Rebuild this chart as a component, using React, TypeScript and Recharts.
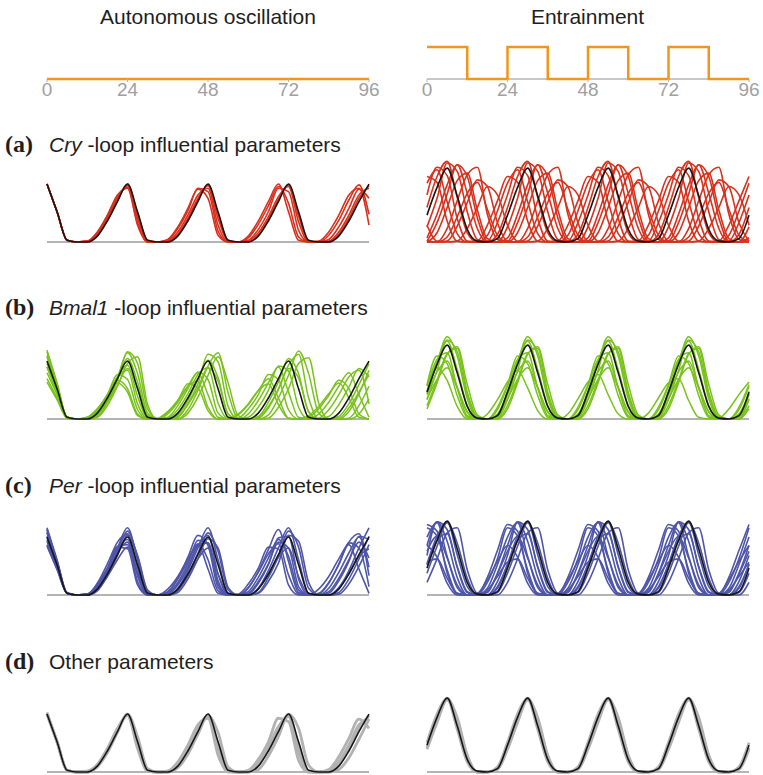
import React from 'react';
import { LineChart, Line, XAxis, YAxis } from 'recharts';

// time grid (h), sampled every 3 h
const hours = [0, 3, 6, 9, 12, 15, 18, 21, 24, 27, 30, 33, 36, 39, 42, 45, 48, 51, 54, 57, 60, 63, 66, 69, 72, 75, 78, 81, 84, 87, 90, 93, 96];
const tickHours = [0, 24, 48, 72, 96];

// light schedule
const lightTimes = [0, 12, 24, 36, 48, 60, 72, 84, 96];
const lightDD = [0, 0, 0, 0, 0, 0, 0, 0, 0];
const lightLD = [1, 0, 1, 0, 1, 0, 1, 0, 0];

// nominal model (black)
const blackAuto = [69, 36, 2, 0, 0, 7, 25, 48, 69, 36, 2, 0, 0, 7, 25, 48, 69, 36, 2, 0, 0, 7, 25, 48, 69, 36, 2, 0, 0, 7, 25, 48, 69];
const blackEntrain = [32, 65, 88, 55, 15, 1, 0, 4, 32, 65, 88, 55, 15, 1, 0, 4, 32, 65, 88, 55, 15, 1, 0, 4, 32, 65, 88, 55, 15, 1, 0, 4, 32];

// (a) Cry-loop
const cryAuto = [
  [69, 36, 2, 0, 1, 12, 32, 56, 64, 20, 0, 0, 3, 18, 40, 63, 52, 8, 0, 0, 7, 25, 48, 69, 36, 2, 0, 1, 12, 32, 56, 64, 20],
  [69, 36, 2, 0, 1, 9, 28, 52, 67, 28, 1, 0, 1, 12, 32, 56, 64, 20, 0, 0, 2, 15, 36, 64, 60, 14, 0, 0, 3, 18, 40, 63, 52],
  [69, 36, 2, 0, 0, 8, 27, 50, 68, 32, 1, 0, 1, 9, 28, 52, 67, 28, 1, 0, 1, 11, 30, 54, 66, 24, 0, 0, 1, 12, 32, 56, 64],
  [69, 36, 2, 0, 0, 7, 26, 49, 69, 34, 2, 0, 0, 8, 26, 50, 68, 33, 2, 0, 0, 8, 27, 51, 68, 31, 1, 0, 0, 9, 28, 52, 67],
  [69, 36, 2, 0, 1, 11, 31, 54, 65, 23, 0, 0, 2, 16, 37, 64, 60, 13, 0, 0, 5, 21, 43, 66, 46, 6, 0, 0, 8, 26, 50, 68, 33],
];
const cryEntrain = [
  [78, 71, 25, 1, 0, 1, 20, 49, 78, 71, 25, 1, 0, 1, 20, 49, 78, 71, 25, 1, 0, 1, 20, 49, 78, 71, 25, 1, 0, 1, 20, 49, 78],
  [70, 86, 48, 10, 0, 0, 8, 37, 70, 86, 48, 10, 0, 0, 8, 37, 70, 86, 48, 10, 0, 0, 8, 37, 70, 86, 48, 10, 0, 0, 8, 37, 70],
  [56, 89, 79, 28, 1, 0, 1, 23, 56, 89, 79, 28, 1, 0, 1, 23, 56, 89, 79, 28, 1, 0, 1, 23, 56, 89, 79, 28, 1, 0, 1, 23, 56],
  [18, 52, 94, 84, 36, 3, 0, 0, 18, 52, 94, 84, 36, 3, 0, 0, 18, 52, 94, 84, 36, 3, 0, 0, 18, 52, 94, 84, 36, 3, 0, 0, 18],
  [5, 33, 68, 92, 58, 16, 0, 0, 5, 33, 68, 92, 58, 16, 0, 0, 5, 33, 68, 92, 58, 16, 0, 0, 5, 33, 68, 92, 58, 16, 0, 0, 5],
  [0, 11, 41, 73, 82, 38, 4, 0, 0, 11, 41, 73, 82, 38, 4, 0, 0, 11, 41, 73, 82, 38, 4, 0, 0, 11, 41, 73, 82, 38, 4, 0, 0],
  [0, 0, 16, 49, 80, 89, 33, 3, 0, 0, 16, 49, 80, 89, 33, 3, 0, 0, 16, 49, 80, 89, 33, 3, 0, 0, 16, 49, 80, 89, 33, 3, 0],
  [1, 0, 1, 19, 47, 74, 66, 23, 1, 0, 1, 19, 47, 74, 66, 23, 1, 0, 1, 19, 47, 74, 66, 23, 1, 0, 1, 19, 47, 74, 66, 23, 1],
  [20, 1, 0, 1, 16, 41, 66, 56, 20, 1, 0, 1, 16, 41, 66, 56, 20, 1, 0, 1, 16, 41, 66, 56, 20, 1, 0, 1, 16, 41, 66, 56, 20],
  [41, 78, 96, 53, 11, 0, 0, 9, 41, 78, 96, 53, 11, 0, 0, 9, 41, 78, 96, 53, 11, 0, 0, 9, 41, 78, 96, 53, 11, 0, 0, 9, 41],
  [1, 23, 57, 92, 78, 29, 1, 0, 1, 23, 57, 92, 78, 29, 1, 0, 1, 23, 57, 92, 78, 29, 1, 0, 1, 23, 57, 92, 78, 29, 1, 0, 1],
  [0, 0, 6, 30, 58, 71, 39, 8, 0, 0, 6, 30, 58, 71, 39, 8, 0, 0, 6, 30, 58, 71, 39, 8, 0, 0, 6, 30, 58, 71, 39, 8, 0],
];

// (b) Bmal1-loop
const bmalAuto = [
  [48, 25, 1, 0, 2, 12, 28, 46, 36, 6, 0, 0, 8, 22, 39, 45, 14, 0, 0, 5, 17, 34, 48, 25, 1, 0, 2, 12, 28, 46, 36, 6, 0],
  [55, 29, 2, 0, 1, 12, 29, 53, 47, 11, 0, 0, 6, 20, 39, 55, 29, 2, 0, 1, 12, 29, 53, 47, 11, 0, 0, 6, 20, 39, 55, 29, 2],
  [62, 32, 2, 0, 1, 11, 29, 50, 58, 18, 0, 0, 2, 16, 36, 56, 47, 7, 0, 0, 6, 22, 43, 62, 32, 2, 0, 1, 11, 29, 50, 58, 18],
  [66, 34, 2, 0, 0, 9, 27, 50, 64, 27, 1, 0, 1, 11, 30, 53, 61, 19, 0, 0, 2, 14, 34, 63, 57, 14, 0, 0, 3, 17, 38, 60, 50],
  [74, 38, 2, 0, 0, 6, 24, 49, 72, 44, 4, 0, 0, 5, 22, 47, 70, 49, 6, 0, 0, 3, 20, 44, 72, 54, 8, 0, 0, 3, 18, 41, 66],
  [80, 42, 2, 0, 0, 5, 23, 49, 79, 54, 7, 0, 0, 2, 18, 42, 77, 68, 15, 0, 0, 1, 13, 36, 64, 77, 25, 0, 0, 0, 9, 30, 58],
  [82, 43, 2, 0, 0, 3, 20, 46, 80, 66, 12, 0, 0, 0, 11, 34, 63, 79, 31, 1, 0, 0, 5, 25, 52, 81, 54, 7, 0, 0, 1, 16, 39],
  [76, 40, 2, 0, 0, 2, 16, 39, 66, 74, 17, 0, 0, 0, 7, 26, 52, 74, 43, 4, 0, 0, 1, 14, 36, 66, 73, 19, 0, 0, 0, 6, 24],
  [44, 23, 1, 0, 2, 12, 26, 43, 32, 4, 0, 1, 9, 22, 42, 37, 10, 0, 0, 6, 18, 34, 42, 17, 1, 0, 4, 15, 30, 43, 25, 2, 0],
  [62, 32, 2, 0, 0, 5, 20, 40, 60, 38, 4, 0, 0, 3, 17, 37, 61, 45, 6, 0, 0, 2, 15, 35, 60, 49, 9, 0, 0, 1, 13, 32, 53],
];
const bmalEntrain = [
  [40, 61, 46, 15, 0, 0, 6, 23, 44, 58, 37, 10, 0, 0, 6, 24, 44, 53, 29, 6, 0, 0, 7, 25, 43, 48, 22, 2, 0, 1, 12, 29, 44],
  [41, 75, 66, 28, 2, 0, 0, 14, 41, 75, 66, 28, 2, 0, 0, 14, 41, 75, 66, 28, 2, 0, 0, 14, 41, 75, 66, 28, 2, 0, 0, 14, 41],
  [39, 71, 79, 37, 4, 0, 0, 11, 39, 71, 79, 37, 4, 0, 0, 11, 39, 71, 79, 37, 4, 0, 0, 11, 39, 71, 79, 37, 4, 0, 0, 11, 39],
  [33, 69, 93, 59, 16, 0, 0, 5, 33, 69, 93, 59, 16, 0, 0, 5, 33, 69, 93, 59, 16, 0, 0, 5, 33, 69, 93, 59, 16, 0, 0, 5, 33],
  [30, 67, 98, 75, 24, 0, 0, 3, 30, 67, 98, 75, 24, 0, 0, 3, 30, 67, 98, 75, 24, 0, 0, 3, 30, 67, 98, 75, 24, 0, 0, 3, 30],
  [23, 58, 94, 80, 29, 1, 0, 1, 23, 58, 94, 80, 29, 1, 0, 1, 23, 58, 94, 80, 29, 1, 0, 1, 23, 58, 94, 80, 29, 1, 0, 1, 23],
  [16, 46, 78, 84, 32, 3, 0, 0, 16, 46, 78, 84, 32, 3, 0, 0, 16, 46, 78, 84, 32, 3, 0, 0, 16, 46, 78, 84, 32, 3, 0, 0, 16],
  [29, 56, 69, 38, 8, 0, 0, 6, 29, 56, 69, 38, 8, 0, 0, 6, 29, 56, 69, 38, 8, 0, 0, 6, 29, 56, 69, 38, 8, 0, 0, 6, 29],
  [12, 43, 77, 86, 41, 5, 0, 0, 12, 43, 77, 86, 41, 5, 0, 0, 12, 43, 77, 86, 41, 5, 0, 0, 12, 43, 77, 86, 41, 5, 0, 0, 12],
  [24, 47, 61, 37, 9, 0, 0, 3, 24, 47, 61, 37, 9, 0, 0, 3, 24, 47, 61, 37, 9, 0, 0, 3, 24, 47, 61, 37, 9, 0, 0, 3, 24],
];

// (c) Per-loop
const perAuto = [
  [80, 42, 2, 0, 0, 8, 29, 56, 80, 42, 2, 0, 0, 8, 29, 56, 80, 42, 2, 0, 0, 8, 29, 56, 80, 42, 2, 0, 0, 8, 29, 56, 80],
  [75, 39, 2, 0, 0, 10, 30, 56, 73, 32, 1, 0, 1, 12, 33, 59, 71, 25, 0, 0, 1, 14, 36, 68, 70, 19, 0, 0, 2, 17, 40, 70, 66],
  [70, 36, 2, 0, 1, 11, 31, 55, 66, 24, 0, 0, 2, 15, 37, 65, 62, 13, 0, 0, 4, 21, 44, 66, 46, 6, 0, 0, 8, 27, 50, 69, 33],
  [64, 33, 2, 0, 1, 12, 31, 58, 60, 16, 0, 0, 4, 19, 40, 61, 42, 5, 0, 0, 9, 27, 49, 61, 24, 1, 0, 2, 15, 36, 62, 56, 10],
  [78, 40, 2, 0, 0, 6, 25, 52, 76, 46, 4, 0, 0, 5, 23, 50, 74, 52, 6, 0, 0, 3, 21, 46, 76, 57, 8, 0, 0, 3, 19, 43, 70],
  [58, 30, 2, 0, 0, 6, 22, 42, 57, 27, 1, 0, 0, 7, 23, 43, 56, 25, 1, 0, 0, 8, 24, 45, 56, 22, 1, 0, 0, 9, 26, 46, 55],
  [66, 34, 2, 0, 0, 9, 28, 51, 63, 25, 1, 0, 1, 13, 32, 60, 62, 17, 0, 0, 2, 16, 37, 63, 56, 10, 0, 0, 4, 20, 42, 63, 44],
  [60, 31, 2, 0, 1, 13, 32, 57, 55, 12, 0, 0, 7, 22, 43, 60, 31, 2, 0, 1, 13, 32, 57, 55, 12, 0, 0, 7, 22, 43, 60, 31, 2],
  [74, 38, 2, 0, 0, 5, 23, 47, 71, 47, 6, 0, 0, 3, 19, 43, 67, 56, 9, 0, 0, 2, 16, 38, 71, 64, 15, 0, 0, 1, 13, 34, 60],
  [78, 40, 3, 0, 1, 14, 37, 63, 73, 23, 0, 0, 3, 20, 45, 71, 59, 9, 0, 0, 8, 28, 54, 78, 40, 3, 0, 1, 14, 37, 63, 73, 23],
];
const perEntrain = [
  [59, 45, 14, 0, 0, 2, 18, 40, 59, 45, 14, 0, 0, 2, 18, 40, 59, 45, 14, 0, 0, 2, 18, 40, 59, 45, 14, 0, 0, 2, 18, 40, 59],
  [80, 70, 30, 2, 0, 0, 15, 43, 80, 70, 30, 2, 0, 0, 15, 43, 80, 70, 30, 2, 0, 0, 15, 43, 80, 70, 30, 2, 0, 0, 15, 43, 80],
  [69, 86, 46, 9, 0, 0, 8, 36, 69, 86, 46, 9, 0, 0, 8, 36, 69, 86, 46, 9, 0, 0, 8, 36, 69, 86, 46, 9, 0, 0, 8, 36, 69],
  [59, 87, 64, 21, 0, 0, 3, 26, 59, 87, 64, 21, 0, 0, 3, 26, 59, 87, 64, 21, 0, 0, 3, 26, 59, 87, 64, 21, 0, 0, 3, 26, 59],
  [47, 87, 78, 33, 3, 0, 0, 16, 47, 87, 78, 33, 3, 0, 0, 16, 47, 87, 78, 33, 3, 0, 0, 16, 47, 87, 78, 33, 3, 0, 0, 16, 47],
  [37, 70, 87, 48, 10, 0, 0, 8, 37, 70, 87, 48, 10, 0, 0, 8, 37, 70, 87, 48, 10, 0, 0, 8, 37, 70, 87, 48, 10, 0, 0, 8, 37],
  [26, 58, 86, 62, 20, 0, 0, 3, 26, 58, 86, 62, 20, 0, 0, 3, 26, 58, 86, 62, 20, 0, 0, 3, 26, 58, 86, 62, 20, 0, 0, 3, 26],
  [15, 43, 74, 80, 30, 2, 0, 0, 15, 43, 74, 80, 30, 2, 0, 0, 15, 43, 74, 80, 30, 2, 0, 0, 15, 43, 74, 80, 30, 2, 0, 0, 15],
  [39, 43, 20, 2, 0, 0, 6, 22, 39, 43, 20, 2, 0, 0, 6, 22, 39, 43, 20, 2, 0, 0, 6, 22, 39, 43, 20, 2, 0, 0, 6, 22, 39],
  [52, 70, 44, 12, 0, 0, 4, 25, 52, 70, 44, 12, 0, 0, 4, 25, 52, 70, 44, 12, 0, 0, 4, 25, 52, 70, 44, 12, 0, 0, 4, 25, 52],
  [36, 65, 73, 34, 4, 0, 0, 10, 36, 65, 73, 34, 4, 0, 0, 10, 36, 65, 73, 34, 4, 0, 0, 10, 36, 65, 73, 34, 4, 0, 0, 10, 36],
  [84, 76, 26, 1, 0, 1, 21, 53, 84, 76, 26, 1, 0, 1, 21, 53, 84, 76, 26, 1, 0, 1, 21, 53, 84, 76, 26, 1, 0, 1, 21, 53, 84],
];

// (d) other parameters
const otherAuto = [
  [69, 36, 2, 0, 0, 8, 27, 50, 68, 32, 1, 0, 1, 9, 28, 52, 67, 28, 1, 0, 1, 11, 30, 54, 66, 24, 0, 0, 1, 12, 32, 56, 64],
  [71, 36, 2, 0, 0, 6, 23, 47, 69, 42, 4, 0, 0, 5, 21, 45, 67, 47, 6, 0, 0, 3, 19, 42, 69, 52, 8, 0, 0, 3, 17, 39, 63],
  [69, 36, 2, 0, 0, 7, 26, 49, 69, 34, 2, 0, 0, 8, 26, 50, 68, 33, 2, 0, 0, 8, 27, 51, 68, 31, 1, 0, 0, 9, 28, 52, 67],
  [69, 36, 2, 0, 1, 9, 28, 52, 67, 28, 1, 0, 1, 12, 32, 56, 64, 20, 0, 0, 2, 15, 36, 64, 60, 14, 0, 0, 3, 18, 40, 63, 52],
];
const otherEntrain = [
  [27, 59, 86, 65, 20, 0, 0, 3, 27, 59, 86, 65, 20, 0, 0, 3, 27, 59, 86, 65, 20, 0, 0, 3, 27, 59, 86, 65, 20, 0, 0, 3, 27],
  [35, 69, 87, 51, 12, 0, 0, 6, 35, 69, 87, 51, 12, 0, 0, 6, 35, 69, 87, 51, 12, 0, 0, 6, 35, 69, 87, 51, 12, 0, 0, 6, 35],
  [29, 62, 88, 62, 19, 0, 0, 4, 29, 62, 88, 62, 19, 0, 0, 4, 29, 62, 88, 62, 19, 0, 0, 4, 29, 62, 88, 62, 19, 0, 0, 4, 29],
];

const SANS = '"Liberation Sans", Arial, Helvetica, sans-serif';
const SERIF = '"Liberation Serif", "Times New Roman", serif';
const LEFT_X = 47;
const RIGHT_X = 427;
const PLOT_W = 322;
const PLOT_H = 84;
const PAD = 14;
const AXIS_GREY = '#b4b4b4';

type PanelProps = {
  x: number;
  baseline: number;
  curves: number[][];
  black: number[];
  color: string;
  width?: number;
};

function TracePanel({ x, baseline, curves, black, color, width = 1.5 }: PanelProps) {
  const data = hours.map((t, i) => {
    const row: Record<string, number> = { t, black: black[i] };
    curves.forEach((c, k) => {
      row['c' + k] = c[i];
    });
    return row;
  });
  return (
    <div style={{ position: 'absolute', left: x - PAD, top: baseline - PLOT_H - 8 }}>
      <LineChart width={PLOT_W + PAD * 2} height={PLOT_H + 16} data={data} margin={{ top: 8, right: PAD, bottom: 8, left: PAD }}>
        <XAxis type="number" dataKey="t" domain={[0, 96]} hide />
        <YAxis type="number" domain={[0, 100]} hide />
        {/* zero line, drawn first so the traces sit on top */}
        <Line type="linear" dataKey={() => 0} stroke={AXIS_GREY} strokeWidth={2} dot={false} isAnimationActive={false} />
        {curves.map((_, k) => (
          <Line
            key={k}
            type="monotone"
            dataKey={'c' + k}
            stroke={color}
            strokeWidth={width}
            dot={false}
            isAnimationActive={false}
          />
        ))}
        <Line type="monotone" dataKey="black" stroke="#161616" strokeWidth={1.6} dot={false} isAnimationActive={false} />
      </LineChart>
    </div>
  );
}

function LightPanel({ x, values }: { x: number; values: number[] }) {
  const data = lightTimes.map((t, i) => ({ t, light: values[i] }));
  return (
    <div style={{ position: 'absolute', left: x - PAD, top: 47 - 8 }}>
      <LineChart width={PLOT_W + PAD * 2} height={8 + 32 + 30} data={data} margin={{ top: 8, right: PAD, bottom: 0, left: PAD }}>
        <XAxis
          type="number"
          dataKey="t"
          domain={[0, 96]}
          ticks={tickHours}
          interval={0}
          height={30}
          tickSize={3}
          tickMargin={1}
          axisLine={false}
          tickLine={{ stroke: AXIS_GREY }}
          tick={{ fill: '#a0a0a0', fontSize: 19, fontFamily: SANS }}
        />
        <YAxis type="number" domain={[0, 1]} hide />
        <Line type="linear" dataKey={() => 0} stroke={AXIS_GREY} strokeWidth={1.5} dot={false} isAnimationActive={false} />
        <Line type="stepAfter" dataKey="light" stroke="#f29518" strokeWidth={2.5} dot={false} isAnimationActive={false} />
      </LineChart>
    </div>
  );
}

const rows = [
  { tag: '(a)', gene: 'Cry', rest: ' -loop influential parameters', labelY: 152, baseline: 242, auto: cryAuto, ent: cryEntrain, color: '#d8311e', width: 1.6 },
  { tag: '(b)', gene: 'Bmal1', rest: ' -loop influential parameters', labelY: 315, baseline: 419, auto: bmalAuto, ent: bmalEntrain, color: '#78c21b', width: 1.5 },
  { tag: '(c)', gene: 'Per', rest: ' -loop influential parameters', labelY: 493, baseline: 595, auto: perAuto, ent: perEntrain, color: '#4f56a8', width: 1.6 },
  { tag: '(d)', gene: '', rest: 'Other parameters', labelY: 669, baseline: 772, auto: otherAuto, ent: otherEntrain, color: '#b2b2b2', width: 2.8 },
];

export default function App() {
  return (
    <div style={{ position: 'absolute', left: 0, top: 0, width: 763, height: 775, overflow: 'hidden', background: '#fff' }}>
      <svg width={763} height={775} style={{ position: 'absolute', left: 0, top: 0 }}>
        <text x={LEFT_X + PLOT_W / 2} y={24} textAnchor="middle" fontFamily={SANS} fontSize={21} fill="#1e1e1e">
          Autonomous oscillation
        </text>
        <text x={RIGHT_X + 321 / 2} y={24} textAnchor="middle" fontFamily={SANS} fontSize={21} fill="#1e1e1e">
          Entrainment
        </text>
        {rows.map((r) => (
          <g key={r.tag}>
            <text x={5} y={r.labelY} fontFamily={SERIF} fontWeight="bold" fontSize={24} fill="#1e1e1e">
              {r.tag}
            </text>
            <text x={49} y={r.labelY} fontFamily={SANS} fontSize={21} fill="#1e1e1e">
              {r.gene ? <tspan fontStyle="italic">{r.gene}</tspan> : null}
              <tspan>{r.rest}</tspan>
            </text>
          </g>
        ))}
      </svg>
      <LightPanel x={LEFT_X} values={lightDD} />
      <LightPanel x={RIGHT_X} values={lightLD} />
      {rows.map((r) => (
        <React.Fragment key={r.tag}>
          <TracePanel x={LEFT_X} baseline={r.baseline} curves={r.auto} black={blackAuto} color={r.color} width={r.width} />
          <TracePanel x={RIGHT_X} baseline={r.baseline} curves={r.ent} black={blackEntrain} color={r.color} width={r.width} />
        </React.Fragment>
      ))}
    </div>
  );
}
